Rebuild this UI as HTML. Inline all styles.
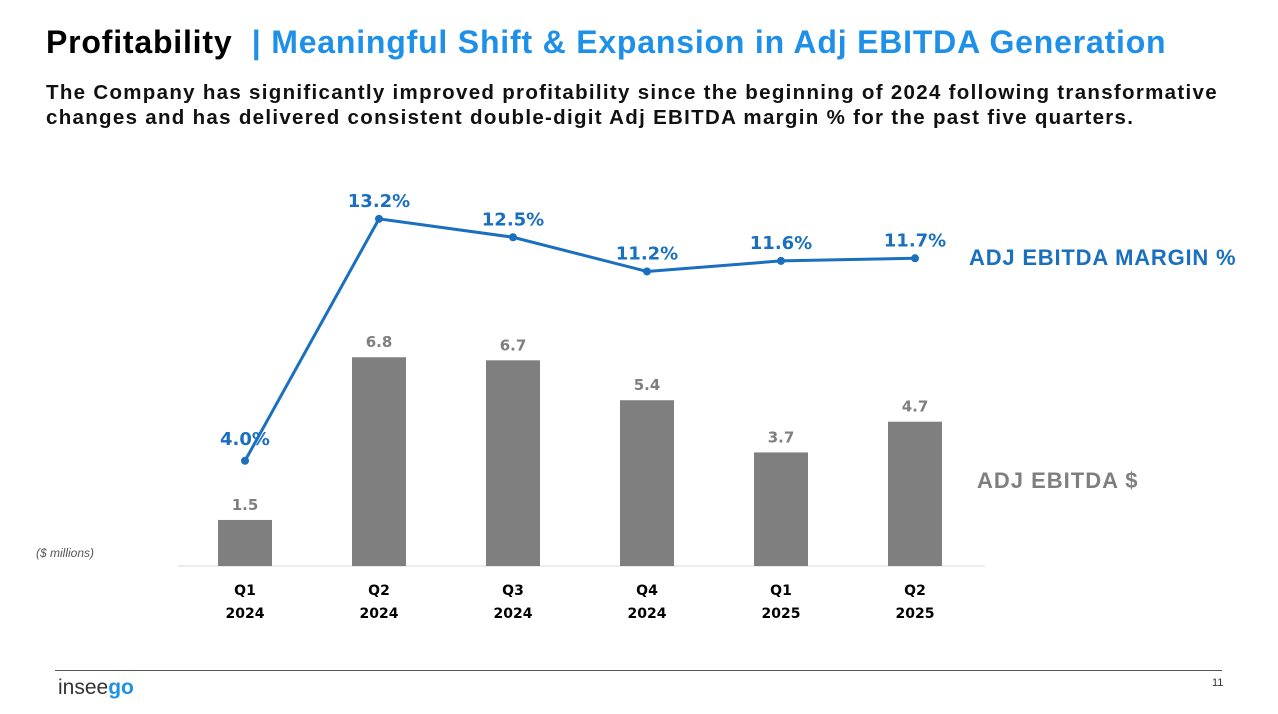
<!DOCTYPE html>
<html><head><meta charset="utf-8"><style>
body{margin:0;width:1278px;height:714px;background:#fff;font-family:"Liberation Sans",sans-serif;position:relative;overflow:hidden}
.t{position:absolute;white-space:nowrap}
</style></head><body>
<div class="t" style="left:46px;top:24px;font-size:32px;font-weight:bold;color:#000;letter-spacing:0.8px">Profitability <span style="color:#1e90e8">&nbsp;|&nbsp;Meaningful Shift &amp; Expansion in Adj EBITDA Generation</span></div>
<div class="t" style="left:46px;top:80px;font-size:20.5px;font-weight:bold;color:#111;line-height:25px;letter-spacing:1.3px">The Company has significantly improved profitability since the beginning of 2024 following transformative<br>changes and has delivered consistent double-digit Adj EBITDA margin % for the past five quarters.</div>
<svg width="1278" height="714" style="position:absolute;left:0;top:0" id="chart"></svg>
<div class="t" style="left:969px;top:245px;font-size:22px;font-weight:bold;color:#1a6fbf;letter-spacing:0.8px">ADJ EBITDA MARGIN %</div>
<div class="t" style="left:977px;top:468px;font-size:22px;font-weight:bold;color:#7f7f7f;letter-spacing:1px">ADJ EBITDA $</div>
<div class="t" style="left:36px;top:546px;font-size:12px;font-style:italic;color:#555">($ millions)</div>
<div style="position:absolute;left:55px;top:670px;width:1167px;height:1px;background:#555"></div>
<div class="t" style="left:58px;top:676px;font-size:21px;color:#333">insee<span style="color:#1e90e8;font-weight:bold">go</span></div>
<div class="t" style="left:1212px;top:677px;font-size:11px;color:#333">11</div>
<script>
const quarters=["Q1","Q2","Q3","Q4","Q1","Q2"];
const years=["2024","2024","2024","2024","2025","2025"];
const ebitda=[1.5,6.8,6.7,5.4,3.7,4.7];
const margin=[4.0,13.2,12.5,11.2,11.6,11.7];
const svg=document.getElementById('chart');
const NS='http://www.w3.org/2000/svg';
const base=566;
const xPos=i=>245+i*134;
const yBar=v=>base-v*30.7;
const yLine=v=>base-v*26.3;
function mk(tag,attrs,txt){const e=document.createElementNS(NS,tag);for(const k in attrs)e.setAttribute(k,attrs[k]);if(txt!==undefined)e.textContent=txt;svg.appendChild(e);return e;}
const ax=mk('line',{x1:178,x2:985,y1:base,y2:base,stroke:'#d9d9d9','stroke-width':1});


ebitda.forEach((v,i)=>{
  const r=mk('rect',{x:xPos(i)-27,y:yBar(v),width:54,height:base-yBar(v),fill:'#7f7f7f'});
  
  
  const l=mk('text',{x:xPos(i),y:yBar(v)-10,'text-anchor':'middle','font-size':15,'font-weight':'bold',fill:'#7f7f7f','font-family':'DejaVu Sans, sans-serif'},v.toFixed(1));
  
  
  const q=mk('text',{x:xPos(i),y:595,'text-anchor':'middle','font-size':14,'font-weight':'bold',fill:'#000','font-family':'DejaVu Sans, sans-serif'},quarters[i]);
  
  
  const yv=mk('text',{x:xPos(i),y:618,'text-anchor':'middle','font-size':14,'font-weight':'bold',fill:'#000','font-family':'DejaVu Sans, sans-serif'},years[i]);
  
  
});
const pts=margin.map((v,i)=>xPos(i)+','+yLine(v)).join(' ');
const pl=mk('polyline',{points:pts,fill:'none',stroke:'#1a6fbf','stroke-width':3});


margin.forEach((v,i)=>{
  const c=mk('circle',{cx:xPos(i),cy:yLine(v),r:4,fill:'#1a6fbf'});
  
  
  const t=mk('text',{x:xPos(i),y:yLine(v)-(i==0?16:12),'text-anchor':'middle','font-size':18,'font-weight':'bold',fill:'#1a6fbf','font-family':'DejaVu Sans, sans-serif'},v.toFixed(1)+'%');
  
  
});
</script>
</body></html>
